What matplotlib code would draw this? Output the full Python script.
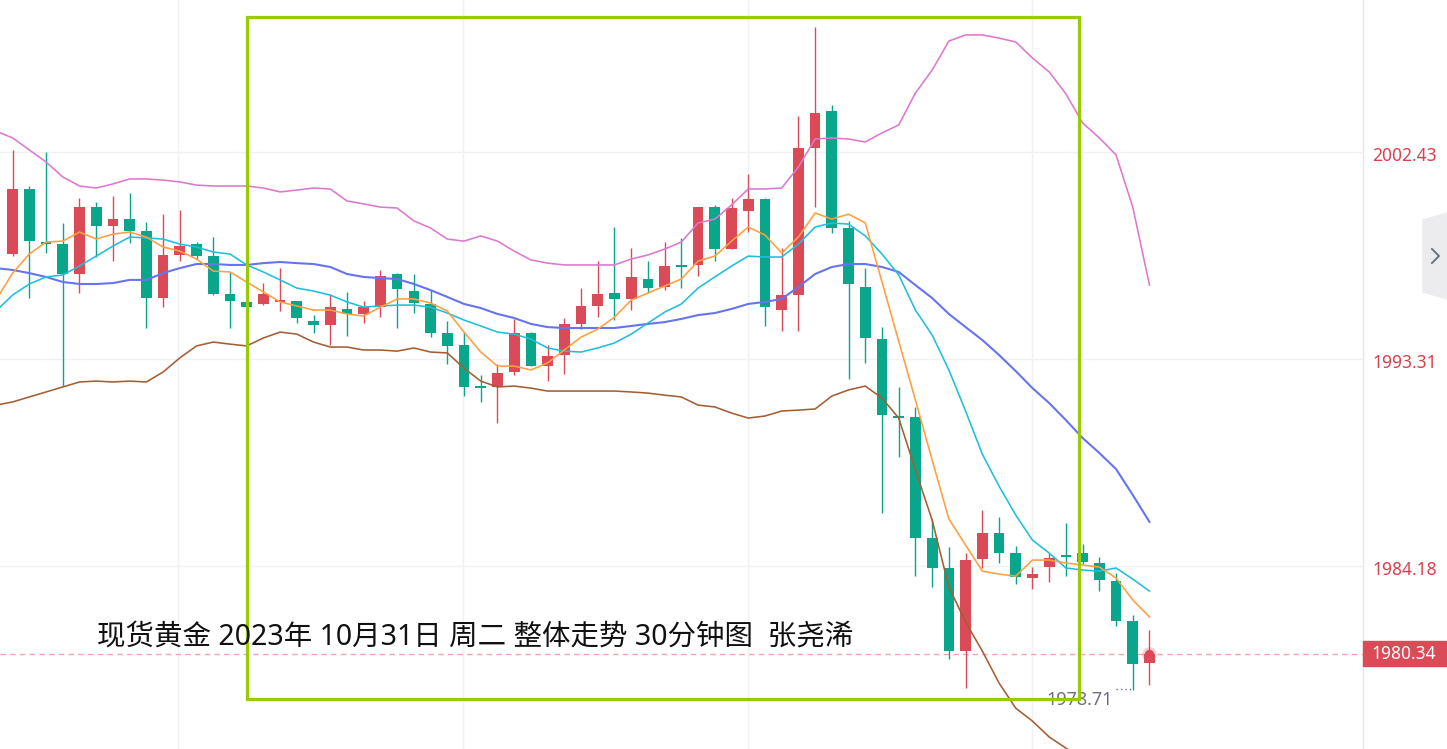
import matplotlib
matplotlib.use("Agg")
import matplotlib.pyplot as plt
import matplotlib.patches as patches
import matplotlib.transforms as mtransforms
from matplotlib.lines import Line2D
import numpy as np

# 30-minute candles, spot gold, 31 Oct 2023
opens = [1997.95, 2000.82, 1998.48, 1998.39, 1997.07, 2000.02, 1999.19, 1999.49, 1998.97, 1996.01,
         1997.91, 1998.39, 1997.86, 1996.19, 1995.84, 1995.75, 1995.84, 1995.88, 1995.00, 1994.82,
         1995.53, 1995.31, 1995.61, 1997.07, 1996.32, 1995.75, 1994.47, 1993.94, 1992.09, 1992.09,
         1992.75, 1994.47, 1993.01, 1993.50, 1994.87, 1995.66, 1996.23, 1995.97, 1996.85, 1996.50,
         1997.42, 1997.47, 2000.02, 1998.17, 1999.85, 2000.38, 1995.48, 1996.14, 2002.63, 2004.26,
         1999.10, 1996.50, 1994.20, 1990.81, 1990.76, 1985.43, 1984.11, 1980.45, 1984.50, 1985.65,
         1984.77, 1983.67, 1984.15, 1984.68, 1984.77, 1984.33, 1983.53, 1981.77, 1979.92]
highs = [2002.54, 2000.95, 2002.45, 1999.32, 2000.42, 2000.24, 2000.51, 2000.64, 1999.36, 1999.71,
         1999.89, 1998.48, 1998.70, 1997.16, 1995.92, 1996.67, 1997.33, 1995.88, 1995.26, 1996.19,
         1996.28, 1995.88, 1997.25, 1997.11, 1997.07, 1996.36, 1995.00, 1994.51, 1992.62, 1993.10,
         1995.09, 1994.51, 1993.94, 1995.13, 1996.45, 1997.64, 1999.14, 1998.22, 1997.64, 1998.48,
         1998.66, 2000.02, 2000.11, 2000.42, 2001.48, 2000.42, 1998.22, 2004.04, 2007.96, 2004.52,
         1999.41, 1997.33, 1994.73, 1992.09, 1991.21, 1986.27, 1985.03, 1984.77, 1986.66, 1986.36,
         1985.08, 1984.15, 1984.77, 1986.09, 1985.17, 1984.59, 1983.89, 1982.04, 1981.37]
lows = [1997.86, 1996.01, 1998.00, 1992.13, 1996.23, 1997.82, 1997.64, 1998.44, 1994.69, 1995.61,
        1997.64, 1997.73, 1996.14, 1994.69, 1995.53, 1995.70, 1995.44, 1994.91, 1994.47, 1993.94,
        1994.34, 1994.91, 1995.17, 1994.69, 1995.35, 1994.29, 1993.10, 1991.69, 1991.43, 1990.50,
        1992.62, 1993.01, 1992.35, 1992.66, 1994.64, 1995.17, 1995.04, 1995.48, 1996.23, 1996.36,
        1996.45, 1996.98, 1997.64, 1998.17, 1998.92, 1994.78, 1994.56, 1994.56, 2000.02, 1998.88,
        1992.44, 1993.15, 1986.53, 1989.00, 1983.75, 1983.27, 1980.10, 1978.82, 1984.11, 1984.33,
        1983.40, 1983.18, 1983.49, 1983.75, 1984.28, 1983.09, 1981.55, 1978.71, 1978.95]
closes = [2000.82, 1998.52, 1998.39, 1997.07, 2000.02, 1999.19, 1999.49, 1998.97, 1996.01, 1997.91,
          1998.30, 1997.86, 1996.19, 1995.88, 1995.61, 1996.19, 1995.88, 1995.13, 1994.82, 1995.61,
          1995.31, 1995.61, 1996.98, 1996.41, 1995.79, 1994.47, 1993.90, 1992.09, 1992.04, 1992.70,
          1994.47, 1993.01, 1993.45, 1994.87, 1995.66, 1996.19, 1995.97, 1996.94, 1996.45, 1997.42,
          1997.38, 2000.02, 1998.17, 1999.98, 2000.38, 1995.61, 1996.14, 2002.63, 2004.17, 1999.10,
          1996.63, 1994.25, 1990.85, 1990.72, 1985.43, 1984.11, 1980.45, 1984.46, 1985.65, 1984.77,
          1983.71, 1983.84, 1984.55, 1984.59, 1984.37, 1983.58, 1981.77, 1979.87, 1980.34]

# indicator lines, one point per candle starting one bar before the first visible candle
boll_upper = [2003.37, 2003.07, 2002.54, 2002.01, 2001.35, 2000.95, 2000.86, 2001.04, 2001.26, 2001.26,
              2001.21, 2001.13, 2000.99, 2000.95, 2000.95, 2000.95, 2000.86, 2000.69, 2000.77, 2000.86,
              2000.82, 2000.29, 2000.16, 2000.02, 1999.98, 1999.41, 1999.10, 1998.61, 1998.52, 1998.75,
              1998.52, 1998.08, 1997.69, 1997.55, 1997.47, 1997.47, 1997.47, 1997.47, 1997.73, 1997.91,
              1998.17, 1998.48, 1999.32, 1999.49, 2000.11, 2000.82, 2000.82, 2000.86, 2001.79, 2003.02,
              2003.07, 2003.02, 2002.89, 2003.29, 2003.64, 2005.05, 2006.06, 2007.34, 2007.61, 2007.61,
              2007.47, 2007.30, 2006.59, 2005.98, 2005.01, 2003.73, 2003.07, 2002.32, 2000.02, 1996.58]
ma5 = [1995.92, 1997.11, 1997.95, 1998.48, 1998.52, 1998.92, 1998.61, 1998.83, 1998.92, 1998.70,
       1998.26, 1998.08, 1997.73, 1997.20, 1997.16, 1996.72, 1996.28, 1995.84, 1995.66, 1995.48,
       1995.48, 1995.31, 1995.22, 1995.61, 1995.97, 1995.97, 1995.79, 1995.44, 1994.51, 1993.63,
       1993.01, 1993.01, 1992.84, 1993.15, 1993.72, 1994.29, 1994.64, 1995.17, 1995.92, 1996.23,
       1996.54, 1996.85, 1997.64, 1997.86, 1998.52, 1999.14, 1998.79, 1998.00, 1998.70, 1999.76,
       1999.49, 1999.71, 1999.32, 1996.72, 1994.11, 1991.51, 1988.87, 1986.27, 1985.12, 1983.97,
       1983.84, 1983.75, 1984.46, 1984.46, 1984.33, 1984.24, 1984.15, 1983.67, 1982.70, 1981.95]
ma10 = [1995.44, 1996.14, 1996.63, 1996.94, 1997.03, 1997.42, 1997.86, 1998.30, 1998.70, 1998.66,
        1998.61, 1998.39, 1998.26, 1998.04, 1997.95, 1997.47, 1997.16, 1996.81, 1996.45, 1996.32,
        1996.14, 1995.84, 1995.61, 1995.66, 1995.70, 1995.70, 1995.61, 1995.35, 1995.04, 1994.78,
        1994.51, 1994.42, 1994.20, 1993.81, 1993.67, 1993.63, 1993.81, 1994.03, 1994.42, 1994.91,
        1995.39, 1995.75, 1996.45, 1996.94, 1997.42, 1997.86, 1997.82, 1997.82, 1998.39, 1999.14,
        1999.32, 1999.27, 1998.75, 1997.95, 1997.03, 1995.48, 1994.38, 1992.84, 1991.03, 1989.13,
        1987.72, 1986.44, 1985.34, 1984.77, 1984.11, 1984.02, 1983.97, 1984.11, 1983.62, 1983.09]
boll_mid = [1997.33, 1997.25, 1997.11, 1996.94, 1996.72, 1996.63, 1996.63, 1996.67, 1996.81, 1996.81,
            1997.11, 1997.33, 1997.51, 1997.51, 1997.47, 1997.47, 1997.55, 1997.60, 1997.55, 1997.51,
            1997.38, 1997.07, 1996.94, 1996.89, 1996.85, 1996.63, 1996.36, 1996.06, 1995.75, 1995.57,
            1995.31, 1995.13, 1994.87, 1994.73, 1994.69, 1994.69, 1994.69, 1994.69, 1994.78, 1994.87,
            1994.95, 1995.09, 1995.26, 1995.35, 1995.53, 1995.75, 1995.84, 1995.97, 1996.50, 1997.07,
            1997.38, 1997.51, 1997.51, 1997.38, 1997.16, 1996.58, 1996.01, 1995.31, 1994.73, 1994.16,
            1993.50, 1992.79, 1992.04, 1991.38, 1990.63, 1989.84, 1989.18, 1988.47, 1987.33, 1986.14]
boll_lower = [1991.29, 1991.43, 1991.65, 1991.87, 1992.09, 1992.31, 1992.35, 1992.31, 1992.35, 1992.31,
              1992.75, 1993.37, 1993.90, 1994.07, 1993.98, 1993.90, 1994.25, 1994.51, 1994.42, 1994.07,
              1993.85, 1993.85, 1993.72, 1993.72, 1993.67, 1993.81, 1993.63, 1993.59, 1992.92, 1992.35,
              1992.09, 1992.13, 1992.04, 1991.91, 1991.91, 1991.91, 1991.91, 1991.91, 1991.87, 1991.82,
              1991.73, 1991.65, 1991.29, 1991.21, 1990.94, 1990.72, 1990.81, 1991.03, 1991.07, 1991.12,
              1991.69, 1991.96, 1992.13, 1991.60, 1990.72, 1988.43, 1986.22, 1983.27, 1981.73, 1980.45,
              1979.04, 1977.93, 1977.36, 1976.66, 1976.17, 1975.64, 1975.11, 1974.54, 1973.88, 1973.22]

price_ticks = [1984.18, 1993.31, 2002.43]
last_price = 1980.34
low_price = 1978.71
title = "现货黄金 2023年 10月31日 周二 整体走势 30分钟图  张尧浠"

RED = "#db4a57"
GREEN = "#0aa68b"
LABEL_RED = "#d9414f"

W, H = 1447, 749
PX = 22.68  # pixels per price unit on this scale
fig = plt.figure(figsize=(W / 100, H / 100), dpi=100)
ax = fig.add_axes([0, 0, 1363 / W, 1])

x = np.arange(len(closes))
ma_x = np.arange(-1, len(closes))
o = np.array(opens)
c = np.array(closes)
up = c >= o
colors = np.where(up, RED, GREEN)

# wicks and bodies
ax.vlines(x, lows, highs, colors=colors, linewidth=1.0, zorder=3)
body_bottom = np.minimum(o, c)
body_h = np.maximum(np.abs(c - o), 0.09)
ax.bar(x, body_h, bottom=body_bottom, width=0.64, color=colors, linewidth=0, zorder=4)

# indicator lines
ax.plot(ma_x, boll_upper, color="#dd78cf", lw=1.15, zorder=5)
ax.plot(ma_x, boll_lower, color="#a45e34", lw=1.15, zorder=5)
ax.plot(ma_x, boll_mid, color="#6674f0", lw=1.5, zorder=5)
ax.plot(ma_x, ma10, color="#1fbfdc", lw=1.15, zorder=5)
ax.plot(ma_x, ma5, color="#ff9f3f", lw=1.15, zorder=5)

# last price line and glowing dot
ax.axhline(last_price, color="#f3a5ad", lw=1.0, ls=(0, (4, 3)), zorder=2)
ax.scatter([x[-1]], [last_price], s=110, color=RED, alpha=0.25, linewidths=0, zorder=6)
ax.scatter([x[-1]], [last_price], s=45, color=RED, linewidths=0, zorder=7)

# lowest price marker
low_i = int(np.argmin(lows))
ax.plot([low_i - 1.0, low_i], [low_price + 0.07, low_price + 0.07], color="#6b7080",
        lw=1.0, ls=(0, (1, 2.2)), zorder=6)
ax.text(low_i - 1.22, low_price - 0.4, f"{low_price:.2f}", color="#6b7080", fontsize=13,
        family="Noto Sans", ha="right", va="center", zorder=6)

# highlighted box
rect = patches.Rectangle((14.02, 1978.33), 63.78 - 14.02, 2008.40 - 1978.33, fill=False,
                         edgecolor="#99cc00", lw=2.3, zorder=8)
ax.add_patch(rect)

ax.text(5.05, 1981.07, title, fontsize=20.5, color="#111111", ha="left", va="center",
        family=["Noto Sans", "Noto Sans CJK SC", "DejaVu Sans"], zorder=9)

# axes styling
ax.set_xlim(-0.754, 80.77)
ax.set_ylim(1976.13, 2009.15)
ax.set_xticks([9.9, 26.95, 43.98, 61.0])
ax.set_yticks(price_ticks)
ax.grid(True, color="#f0f1f4", lw=1.0, zorder=0)
ax.set_axisbelow(True)
ax.tick_params(axis="both", length=0, labelbottom=False, labelleft=False, labelright=False)
for side in ["top", "bottom", "left"]:
    ax.spines[side].set_visible(False)
ax.spines["right"].set_color("#e6e7ec")
ax.spines["right"].set_linewidth(1.0)

# price labels sit a little below their grid lines, as in the app
tr_ax = mtransforms.blended_transform_factory(ax.transAxes, ax.transData)
for p in price_ticks:
    ax.text(1 + 9 / 1363, p - 3.5 / PX, f"{p:.2f}", transform=tr_ax, color=LABEL_RED,
            fontsize=12.5, family="Noto Sans", ha="left", va="center", clip_on=False)

# current price tag on the axis
tr = mtransforms.blended_transform_factory(fig.transFigure, ax.transData)
tag_h = 25 / PX
fig.patches.append(patches.Rectangle((1363 / W, last_price - tag_h / 2), 84 / W, tag_h,
                                     transform=tr, color=RED, zorder=10))
fig.text(1404 / W, last_price, f"{last_price:.2f}", transform=tr, color="white",
         fontsize=12.5, family="Noto Sans", ha="center", va="center", zorder=11)

# collapse tab at right edge
tab = patches.Polygon([(1423 / W, 1 - 220 / H), (1 + 0.01, 1 - 209 / H),
                       (1 + 0.01, 1 - 303 / H), (1423 / W, 1 - 292 / H)],
                      closed=True, transform=fig.transFigure, color="#ececef", zorder=10)
fig.patches.append(tab)
fig.lines.append(Line2D([1432 / W, 1439 / W, 1432 / W],
                        [1 - 249 / H, 1 - 256 / H, 1 - 263 / H],
                        transform=fig.transFigure, color="#6c7180", lw=1.4, zorder=11))

fig.savefig("out.png", dpi=100)
